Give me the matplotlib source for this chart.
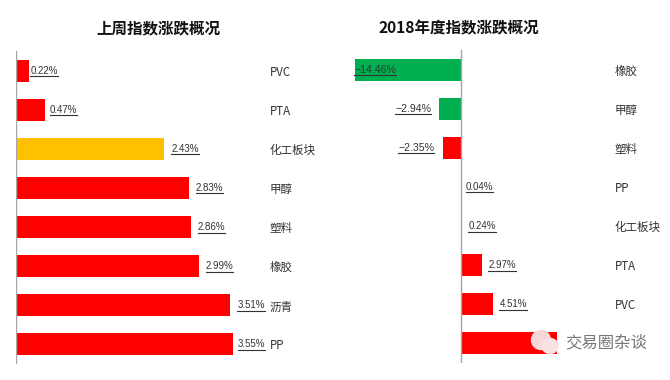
import matplotlib
matplotlib.use("Agg")
import matplotlib.pyplot as plt
from matplotlib.lines import Line2D
from matplotlib.patches import Ellipse

RED = '#FF0000'
AMBER = '#FFC000'
GREEN = '#00B050'

week_names = ['PVC', 'PTA', '化工板块', '甲醇', '塑料', '橡胶', '沥青', 'PP']
week_values = [0.22, 0.47, 2.43, 2.83, 2.86, 2.99, 3.51, 3.55]
week_colors = [RED, RED, AMBER, RED, RED, RED, RED, RED]
week_shown = [True] * 8
week_pads = [1, 5, 7, 7, 7, 7, 7, 5]

# last bar of the year chart: name and label are covered by the watermark
year_names = ['橡胶', '甲醇', '塑料', 'PP', '化工板块', 'PTA', 'PVC', '']
year_values = [-14.46, -2.94, -2.35, 0.04, 0.24, 2.97, 4.51, 13.2]
year_colors = [GREEN, GREEN, RED, RED, AMBER, RED, RED, RED]
year_shown = [True, True, True, True, True, True, True, False]
year_pads = [-41, 8, 9, 5, 6, 6, 6, 0]

plt.rcParams['font.family'] = ['Noto Sans CJK SC', 'DejaVu Sans']
W, H = 670, 380
fig = plt.figure(figsize=(W / 100, H / 100), dpi=100, facecolor='white')


def make_axes(x0, x1, y0, y1):
    return fig.add_axes([x0 / W, 1 - y1 / H, (x1 - x0) / W, (y1 - y0) / H])


def draw_panel(ax, names, values, colors, shown, pads, xlim):
    rows = list(range(len(values)))
    ax.barh(rows, values, height=0.565, color=colors, zorder=2)
    ax.set_xlim(*xlim)
    ax.set_ylim(len(values) - 0.5, -0.5)
    ax.set_xticks([])
    ax.yaxis.tick_right()
    ax.set_yticks(rows, names, fontsize=8.3, color='#333333', ha='left')
    ax.tick_params(axis='y', length=0, pad=1)
    for side in ['top', 'bottom', 'left', 'right']:
        ax.spines[side].set_visible(False)
    ax.axvline(0, color='#A6A6A6', lw=1.0, zorder=3)
    ax.patch.set_alpha(0)

    labels = []
    for r, v, s, p in zip(rows, values, shown, pads):
        if not s:
            continue
        neg = v < 0
        # negative labels are a bit larger in the original
        t = ax.annotate(('%.2f%%' % v).replace('-', '\u2212'), (v, r),
                        xytext=(-p * 0.72 if neg else p * 0.72, 0),
                        textcoords='offset points', va='center',
                        ha='right' if neg else 'left',
                        family='Liberation Sans', fontsize=7.6 if neg else 7.0,
                        color='#333333', zorder=4)
        labels.append(t)
    return labels


left_ax = make_axes(16, 268, 51, 364)
right_ax = make_axes(340, 613, 50, 363)
all_labels = draw_panel(left_ax, week_names, week_values, week_colors,
                        week_shown, week_pads, (0, 252 / 61.1))
all_labels += draw_panel(right_ax, year_names, year_values, year_colors,
                         year_shown, year_pads, (-120.5 / 7.3, 152.5 / 7.3))

fig.canvas.draw()
rend = fig.canvas.get_renderer()
for t in all_labels:
    box = t.get_window_extent(rend)
    y = (box.y0 - 0.5) / H
    fig.add_artist(Line2D([box.x0 / W, box.x1 / W], [y, y], color='#333333', lw=0.8))

fig.text(158 / W, 1 - 28 / H, '上周指数涨跌概况', ha='center', va='center',
         fontsize=11.2, fontweight='bold', color='#111111')
fig.text(458.5 / W, 1 - 28 / H, '2018年度指数涨跌概况', ha='center', va='center',
         fontsize=11.2, fontweight='bold', color='#111111')

# watermark
fig.add_artist(Ellipse((541 / W, 1 - 340 / H), 19 / W, 19 / H, color='#F7D8D8', zorder=6))
fig.add_artist(Ellipse((550 / W, 1 - 346 / H), 16 / W, 15 / H, color='#F9E2E2', zorder=6))
fig.text(565 / W, 1 - 343 / H, '交易圈杂谈', ha='left', va='center', fontsize=11.8,
         color='#777777', zorder=7)

fig.savefig('out.png', dpi=100)
